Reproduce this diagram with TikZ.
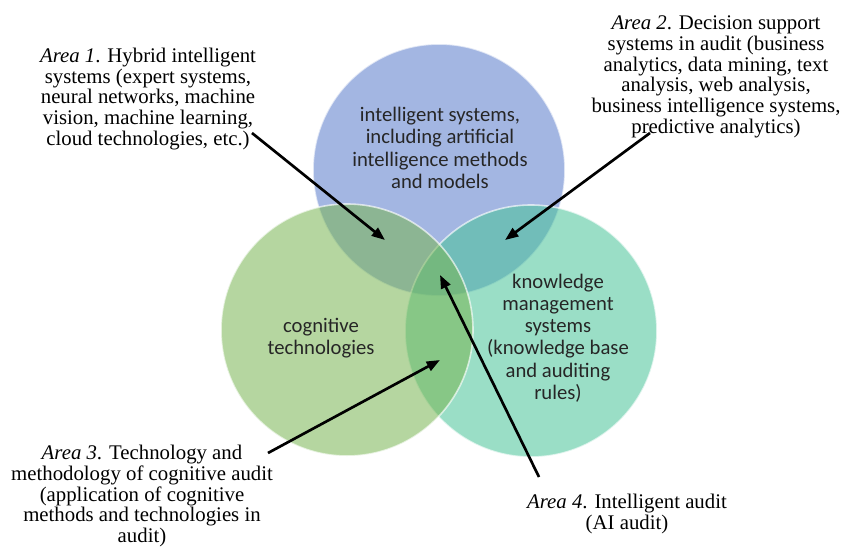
\documentclass[tikz,border=0pt]{standalone}
\usepackage{fontspec}
\setmainfont{Liberation Serif}
\newfontfamily\calibri{Carlito}
\usepackage{tikz}
\usetikzlibrary{arrows.meta}

\definecolor{vennBlue}{RGB}{88,122,202}
\definecolor{vennGreen}{RGB}{120,181,82}
\definecolor{vennTeal}{RGB}{71,195,152}

\begin{document}
\begin{tikzpicture}[x=0.75pt,y=0.75pt,yscale=-1,xscale=1,
  venn/.style={circle, inner sep=0pt, minimum size=189pt, fill opacity=0.55, draw=white, draw opacity=0.65, line width=1.2pt},
  area/.style={align=center, inner sep=0.75pt, font=\fontsize{15.6}{15.5}\selectfont},
  inside/.style={align=center, inner sep=0.75pt, text=black!85, font=\calibri\fontsize{15.5}{16.7}\selectfont},
  pointer/.style={line width=2pt, -{Triangle[length=10pt,width=7.5pt]}}]
\useasboundingbox (0,0) rectangle (844,558);

% Circles
\node [venn, fill=vennBlue] (intSys) at (439,170) {};
\node [venn, fill=vennTeal] (knowSys) at (531,331) {};
\node [venn, fill=vennGreen] (cogTech) at (347,330) {};

% Text Node
\node [inside] (intSysTxt) at (440,148) {intelligent systems,\\including artificial\\intelligence methods\\and models};
% Text Node
\node [inside] (cogTechTxt) at (321,338) {cognitive\\technologies};
% Text Node
\node [inside] (knowSysTxt) at (558,338) {knowledge\\management\\systems\\(knowledge base\\and auditing\\rules)};

% Text Node
\node [area] (area1) at (148,99) {\textit{Area 1}. Hybrid intelligent\\systems (expert systems,\\neural networks, machine\\vision, machine learning,\\cloud technologies, etc.)};
% Text Node
\node [area] (area2) at (716,77) {\textit{Area 2}. Decision support\\systems in audit (business\\analytics, data mining, text\\analysis, web analysis,\\business intelligence systems,\\predictive analytics)};
% Text Node
\node [area] (area3) at (142,496) {\textit{Area 3}. Technology and\\methodology of cognitive audit\\(application of cognitive\\methods and technologies in\\audit)};
% Text Node
\node [area] (area4) at (627,514) {\textit{Area 4}. Intelligent audit\\(AI audit)};

% Arrow ends
\coordinate (tail1) at (252,133);
\coordinate (head1) at (385,240);
\coordinate (tail2) at (650,133);
\coordinate (head2) at (505,240);
\coordinate (tail3) at (268,453);
\coordinate (head3) at (440,360);
\coordinate (tail4) at (539,477);
\coordinate (head4) at (440,275);

%Straight Lines
\draw [pointer] (tail1) -- (head1);
\draw [pointer] (tail2) -- (head2);
\draw [pointer] (tail3) -- (head3);
\draw [pointer] (tail4) -- (head4);

\end{tikzpicture}
\end{document}
